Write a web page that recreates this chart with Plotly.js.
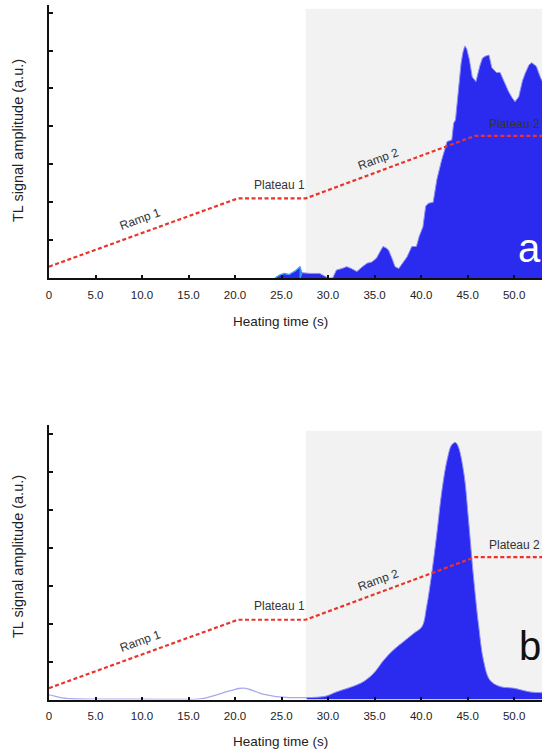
<!DOCTYPE html>
<html>
<head>
<meta charset="utf-8">
<script src="https://cdn.plot.ly/plotly-3.0.1.min.js"></script>
<style>html,body{margin:0;padding:0;background:#fff;}#chart{width:542px;height:751px;}</style>
</head>
<body>
<div id="chart"></div>
<script>
// ---- data ----
const tickVals = [0, 5, 10, 15, 20, 25, 30, 35, 40, 45, 50];
const tickText = ['0', '5.0', '10.0', '15.0', '20.0', '25.0', '30.0', '35.0', '40.0', '45.0', '50.0'];
const yTickVals = [1, 2, 3, 4, 5, 6, 7];

// heating profile (dashed red)
const profileX = [0, 20.3, 27.6, 45.8, 53];
const profileY = [0.3, 2.1, 2.1, 3.75, 3.75];

// panel a: small bump
const aBumpX = [24.3, 24.8, 25.3, 25.8, 26.5, 27.0, 27.0, 27.2];
const aBumpY = [0, 0.08, 0.12, 0.09, 0.19, 0.3, 0.0, 0.14];
// panel a: main signal
const aX = [24.3, 24.8, 25.3, 25.8, 26.5, 27.0, 27.2, 28.1, 29.1, 29.7, 30.0, 30.5, 30.9, 31.5, 32.0, 32.5, 33.1, 33.7, 34.2, 34.7, 35.2, 35.6, 35.9, 36.2, 36.5, 36.9, 37.2, 37.6, 38.0, 38.5, 39.0, 39.5, 39.8, 40.2, 40.5, 40.8, 41.3, 41.7, 42.2, 42.8, 43.3, 43.5, 43.7, 44.0, 44.3, 44.5, 44.7, 44.9, 45.2, 45.5, 45.9, 46.3, 46.6, 46.9, 47.3, 47.6, 48.1, 48.5, 48.9, 49.4, 49.8, 50.1, 50.5, 50.9, 51.2, 51.6, 51.9, 52.4, 52.8, 53.0];
const aY = [0, 0.08, 0.12, 0.09, 0.19, 0.3, 0.14, 0.12, 0.12, 0.03, 0, 0, 0.21, 0.25, 0.3, 0.25, 0.17, 0.3, 0.39, 0.42, 0.52, 0.7, 0.83, 0.8, 0.74, 0.5, 0.3, 0.25, 0.4, 0.56, 0.83, 0.83, 1.1, 1.35, 1.9, 1.97, 2.0, 2.6, 3.1, 3.6, 3.64, 4.08, 4.17, 4.96, 5.66, 5.95, 6.12, 6.05, 5.75, 5.3, 5.18, 5.58, 5.8, 5.85, 5.88, 5.55, 5.42, 5.42, 5.2, 4.92, 4.75, 4.65, 4.78, 5.2, 5.4, 5.62, 5.68, 5.58, 5.31, 5.2];

// panel b: faint leading trace
const bLeadX = [0, 0.6, 1.2, 2.5, 5, 10, 16, 17, 18, 19, 19.8, 20.4, 20.9, 21.5, 22.0, 23.0, 24.1, 24.8, 25.9, 27.7];
const bLeadY = [0.12, 0.09, 0.05, 0.02, 0.01, 0.01, 0.01, 0.05, 0.12, 0.2, 0.25, 0.29, 0.3, 0.27, 0.23, 0.14, 0.09, 0.07, 0.05, 0.05];
// panel b: main glow peak
const bX = [27.7, 28.8, 29.8, 30.9, 32.4, 33.8, 34.9, 36.0, 37.0, 38.1, 39.2, 40.1, 40.6, 41.1, 41.7, 42.2, 42.8, 43.3, 43.7, 44.0, 44.6, 45.1, 45.6, 46.2, 46.7, 47.4, 48.5, 49.9, 51.7, 53.0];
const bY = [0.05, 0.06, 0.09, 0.2, 0.32, 0.47, 0.69, 1.04, 1.3, 1.52, 1.74, 1.92, 2.45, 3.24, 4.38, 5.43, 6.31, 6.71, 6.77, 6.66, 5.96, 4.73, 3.32, 1.92, 1.04, 0.51, 0.34, 0.3, 0.2, 0.18];

const stageLabels = ['Ramp 1', 'Plateau 1', 'Ramp 2', 'Plateau 2'];
const stageX = [9.8, 24.8, 35.4, 52.95];
const stageY = [1.55, 2.45, 3.15, 4.07];
const stageAngle = [-20, 0, -20, 0];
const panelLetters = ['a', 'b'];

// ---- figure ----
const W = 542, H = 751;
const FONT = 'Liberation Sans, Arial, sans-serif';
const BLUE = '#2b2bf0';
const RED = '#e8352b';
const GRAY = '#f2f2f2';

const traces = [
  {x: aX, y: aY, type: 'scatter', mode: 'lines', fill: 'tozeroy', fillcolor: BLUE,
   line: {color: '#8f8ff5', width: 1}, xaxis: 'x', yaxis: 'y', hoverinfo: 'skip'},
  {x: aBumpX, y: aBumpY, type: 'scatter', mode: 'lines',
   line: {color: '#35a8f2', width: 1.2}, xaxis: 'x', yaxis: 'y', hoverinfo: 'skip'},
  {x: profileX, y: profileY, type: 'scatter', mode: 'lines',
   line: {color: RED, width: 2.2, dash: '4px,2.5px'}, xaxis: 'x', yaxis: 'y', hoverinfo: 'skip'},
  {x: bLeadX, y: bLeadY, type: 'scatter', mode: 'lines', line: {color: '#a9a9ee', width: 1.3, shape: 'spline'},
   xaxis: 'x2', yaxis: 'y2', hoverinfo: 'skip'},
  {x: bX, y: bY, type: 'scatter', mode: 'lines', fill: 'tozeroy', fillcolor: BLUE,
   line: {color: '#8f8ff5', width: 1, shape: 'spline'}, xaxis: 'x2', yaxis: 'y2', hoverinfo: 'skip'},
  {x: profileX, y: profileY, type: 'scatter', mode: 'lines',
   line: {color: RED, width: 2.2, dash: '4px,2.5px'}, xaxis: 'x2', yaxis: 'y2', hoverinfo: 'skip'}
];

function xAxis(anchor) {
  return {
    domain: [49 / W, 1], range: [0, 53], anchor: anchor,
    showline: true, linecolor: '#111', linewidth: 2, mirror: false,
    showgrid: false, zeroline: false,
    ticks: 'inside', ticklen: 3, tickwidth: 2, tickcolor: '#111',
    tickmode: 'array', tickvals: tickVals, ticktext: tickText, ticklabelstandoff: 5,
    tickfont: {family: FONT, size: 11.5, color: '#222'}, automargin: false, fixedrange: true
  };
}
function yAxis(anchor, dom, top) {
  return {
    domain: dom, range: [0, top], anchor: anchor,
    showline: true, linecolor: '#111', linewidth: 2, mirror: false,
    showgrid: false, zeroline: false, showticklabels: false,
    ticks: 'inside', ticklen: 4, tickwidth: 2, tickcolor: '#111',
    tickmode: 'array', tickvals: yTickVals, automargin: false, fixedrange: true
  };
}

const annotations = [];
['', '2'].forEach(function (s, p) {
  for (let i = 0; i < stageLabels.length; i++) {
    annotations.push({
      text: stageLabels[i], x: stageX[i], y: stageY[i], xref: 'x' + s, yref: 'y' + s,
      xanchor: i === 3 ? 'right' : 'center', yanchor: 'middle', showarrow: false, textangle: stageAngle[i],
      font: {family: FONT, size: 12, color: '#333'}
    });
  }
  annotations.push({
    text: panelLetters[p], x: 51.7, y: p === 0 ? 0.8 : 1.4, xref: 'x' + s, yref: 'y' + s,
    xanchor: 'center', yanchor: 'middle', showarrow: false,
    font: {family: FONT, size: 40, color: p === 0 ? '#ffffff' : '#111111'}
  });
});
// axis titles
annotations.push({text: 'Heating time (s)', x: 280 / W, y: (H - 321) / H, xref: 'paper', yref: 'paper',
  showarrow: false, xanchor: 'center', yanchor: 'middle', font: {family: FONT, size: 13.5, color: '#222'}});
annotations.push({text: 'Heating time (s)', x: 280 / W, y: (H - 741) / H, xref: 'paper', yref: 'paper',
  showarrow: false, xanchor: 'center', yanchor: 'middle', font: {family: FONT, size: 13.5, color: '#222'}});
annotations.push({text: 'TL signal amplitude (a.u.)', x: 18 / W, y: (H - 141) / H, xref: 'paper', yref: 'paper',
  showarrow: false, xanchor: 'center', yanchor: 'middle', textangle: -90, font: {family: FONT, size: 14.5, color: '#222'}});
annotations.push({text: 'TL signal amplitude (a.u.)', x: 18 / W, y: (H - 557) / H, xref: 'paper', yref: 'paper',
  showarrow: false, xanchor: 'center', yanchor: 'middle', textangle: -90, font: {family: FONT, size: 14.5, color: '#222'}});

const layout = {
  width: W, height: H, margin: {l: 0, r: 0, t: 0, b: 0},
  paper_bgcolor: '#ffffff', plot_bgcolor: 'rgba(0,0,0,0)', showlegend: false,
  xaxis: xAxis('y'), yaxis: yAxis('x', [(H - 278) / H, (H - 5) / H], 7.2),
  xaxis2: xAxis('y2'), yaxis2: yAxis('x2', [(H - 699.5) / H, (H - 425) / H], 7.23),
  shapes: [
    {type: 'rect', xref: 'x', yref: 'y', x0: 27.6, x1: 53, y0: 0, y1: 7.1, fillcolor: GRAY, line: {width: 0}, layer: 'below'},
    {type: 'rect', xref: 'x2', yref: 'y2', x0: 27.6, x1: 53, y0: 0, y1: 7.08, fillcolor: GRAY, line: {width: 0}, layer: 'below'}
  ],
  annotations: annotations
};

Plotly.newPlot('chart', traces, layout, {displayModeBar: false, staticPlot: true});
</script>
</body>
</html>
